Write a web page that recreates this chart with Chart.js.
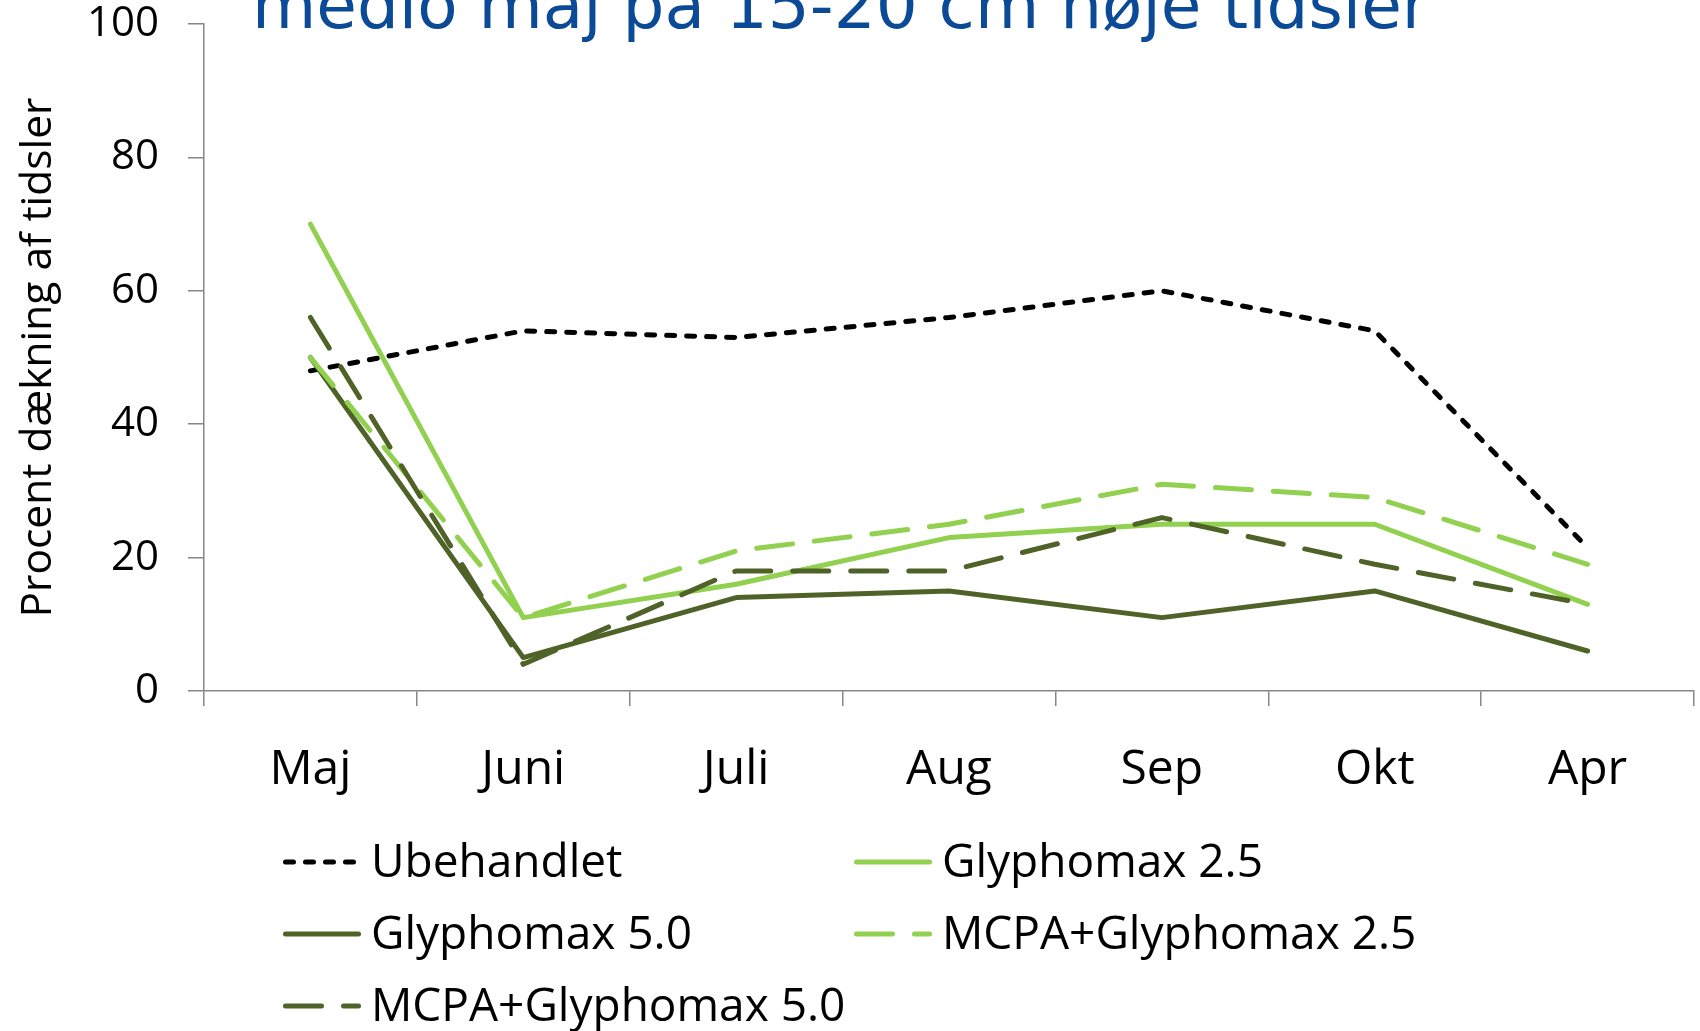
<!DOCTYPE html>
<html>
<head>
<meta charset="utf-8">
<script src="https://cdn.jsdelivr.net/npm/chart.js@4.4.1/dist/chart.umd.min.js"></script>
<style>
  html, body { margin: 0; padding: 0; background: #ffffff; }
  #wrap { width: 1700px; height: 1031px; position: relative; overflow: hidden; }
</style>
</head>
<body>
<div id="wrap"><canvas id="c" width="1700" height="1031"></canvas></div>
<script>
// ---- data ----
const categories = ['Maj', 'Juni', 'Juli', 'Aug', 'Sep', 'Okt', 'Apr'];
const seriesNames = ['Ubehandlet', 'Glyphomax 2.5', 'Glyphomax 5.0', 'MCPA+Glyphomax 2.5', 'MCPA+Glyphomax 5.0'];
const ubehandlet = [48, 54, 53, 56, 60, 54, 21.5];
const glyphomax25 = [70, 11, 16, 23, 25, 25, 13];
const glyphomax50 = [50, 5, 14, 15, 11, 15, 6];
const mcpaGlyphomax25 = [50, 11, 21, 25, 31, 29, 19];
const mcpaGlyphomax50 = [56, 4, 18, 18, 26, 19, 13];
const titleText = 'medio maj på 15-20 cm høje tidsler';
const yAxisTitle = 'Procent dækning af tidsler';

// ---- styles ----
const lightGreen = '#92D050';
const darkGreen = '#4F6228';
const axisColor = '#868686';
const lineW = 5;

function ds(label, data, color, dash, order) {
  return {
    label, data,
    borderColor: color, backgroundColor: color,
    borderWidth: lineW, borderDash: dash,
    borderCapStyle: 'round', borderJoinStyle: 'round',
    pointRadius: 0, pointHoverRadius: 0, tension: 0, fill: false,
    order
  };
}

const datasets = [
  ds(seriesNames[0], ubehandlet, '#000000', [8, 12], 5),
  ds(seriesNames[1], glyphomax25, lightGreen, [], 4),
  ds(seriesNames[2], glyphomax50, darkGreen, [], 3),
  ds(seriesNames[3], mcpaGlyphomax25, lightGreen, [36, 22], 2),
  ds(seriesNames[4], mcpaGlyphomax50, darkGreen, [36, 22], 1)
];

const topTitle = {
  id: 'topTitle',
  afterDraw(chart) {
    const ctx = chart.ctx;
    ctx.save();
    ctx.font = '100px "DejaVu Sans"';
    const w = ctx.measureText(titleText).width;
    const size = 100 * 1176 / w;
    ctx.font = size.toFixed(1) + 'px "DejaVu Sans"';
    ctx.fillStyle = '#0B4A96';
    ctx.textAlign = 'left';
    ctx.textBaseline = 'alphabetic';
    ctx.fillText(titleText, 252, 28);
    ctx.restore();
  }
};

const gridLegend = {
  id: 'gridLegend',
  afterDraw(chart, args, opts) {
    const ctx = chart.ctx;
    const cols = opts.cols, rows = opts.rows;
    ctx.save();
    ctx.font = opts.font;
    ctx.fillStyle = '#000000';
    ctx.textBaseline = 'alphabetic';
    ctx.textAlign = 'left';
    chart.data.datasets.forEach((d, i) => {
      const x = cols[i % 2];
      const y = rows[Math.floor(i / 2)];
      ctx.save();
      ctx.strokeStyle = d.borderColor;
      ctx.lineWidth = d.borderWidth;
      ctx.setLineDash(d.borderDash || []);
      ctx.lineCap = 'round';
      ctx.beginPath();
      ctx.moveTo(x + 2.5, y - 15);
      ctx.lineTo(x + opts.sample - 2.5, y - 15);
      ctx.stroke();
      ctx.restore();
      ctx.fillText(d.label, x + opts.gap, y);
    });
    ctx.restore();
  }
};

new Chart(document.getElementById('c'), {
  type: 'line',
  data: { labels: categories, datasets },
  plugins: [topTitle, gridLegend],
  options: {
    responsive: false,
    animation: false,
    devicePixelRatio: 1,
    layout: { padding: { top: 24, right: 6, left: 0, bottom: 0 } },
    plugins: {
      legend: { display: false },
      tooltip: { enabled: false },
      title: { display: false },
      gridLegend: { cols: [283, 854], rows: [877, 949, 1021], sample: 78, gap: 88, font: '46px "Open Sans"' }
    },
    scales: {
      x: {
        type: 'category',
        offset: true,
        grid: { offset: true, drawOnChartArea: false, drawTicks: true, tickLength: 15, color: axisColor, lineWidth: 1.5 },
        border: { color: axisColor, width: 1.5 },
        ticks: { font: { family: 'Open Sans', size: 48 }, color: '#000000', padding: 36, maxRotation: 0, autoSkip: false },
        afterFit(s) { s.height = 340; s.paddingLeft = 0; s.paddingRight = 0; }
      },
      y: {
        min: 0, max: 100,
        ticks: { stepSize: 20, font: { family: 'Open Sans', size: 42 }, color: '#000000', padding: 29 },
        grid: { drawOnChartArea: false, drawTicks: true, tickLength: 16, color: axisColor, lineWidth: 1.5 },
        border: { color: axisColor, width: 1.5 },
        title: { display: true, text: yAxisTitle, font: { family: 'Open Sans', size: 42.5 }, color: '#000000', padding: { top: 13, bottom: 0 } },
        afterFit(s) { s.width = 204; s.paddingTop = 0; s.paddingBottom = 0; }
      }
    }
  }
});
</script>
</body>
</html>
